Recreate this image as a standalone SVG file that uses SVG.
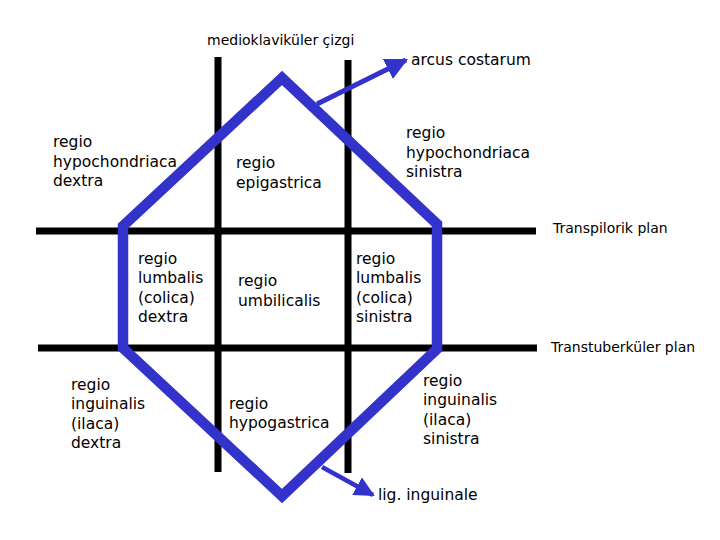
<svg xmlns="http://www.w3.org/2000/svg" width="720" height="540" viewBox="0 0 720 540">
<defs>
<style>
.t{font-family:"DejaVu Sans","Liberation Sans",sans-serif;font-size:15.5px;fill:#000}
.s{font-family:"DejaVu Sans","Liberation Sans",sans-serif;font-size:14px;fill:#000}
.grid{stroke:#000;stroke-width:7;fill:none}
.blue{stroke:#3333CC;stroke-width:10.5;fill:none;stroke-linejoin:miter}
.arr{stroke:#3333CC;fill:none}
</style>
<marker id="ah" viewBox="0 0 10 10" refX="9" refY="5" markerWidth="4.5" markerHeight="4.5" orient="auto" markerUnits="strokeWidth">
<path d="M0,0 L10,5 L0,10 z" fill="#3333CC"/>
</marker>
</defs>
<rect width="720" height="540" fill="#fff"/>
<g id="grid">
<line class="grid" x1="218" y1="57" x2="218" y2="472"/>
<line class="grid" x1="348" y1="60" x2="348" y2="473"/>
<line class="grid" x1="36" y1="231" x2="536" y2="231"/>
<line class="grid" x1="38" y1="348" x2="537" y2="348"/>
</g>
<g id="arcus">
<polygon class="blue" points="282,78 123,226 123,348 282,496 437,349 437,224"/>
</g>
<g id="connectors">
<line class="arr" stroke-width="5" x1="317" y1="104" x2="406" y2="60" marker-end="url(#ah)"/>
<line class="arr" stroke-width="4.5" x1="322" y1="467" x2="373" y2="495" marker-end="url(#ah)"/>
</g>
<g id="label-medioklavikuler"><text class="s" x="207" y="45">medioklaviküler çizgi</text></g>
<g id="label-arcus"><text class="t" x="411" y="65">arcus costarum</text></g>
<g id="regio-hypochondriaca-dextra"><text class="t" x="53" y="147"><tspan x="53">regio</tspan><tspan x="53" dy="19.5">hypochondriaca</tspan><tspan x="53" dy="19.5">dextra</tspan></text></g>
<g id="regio-epigastrica"><text class="t" x="236" y="168"><tspan x="236">regio</tspan><tspan x="236" dy="19.5">epigastrica</tspan></text></g>
<g id="regio-hypochondriaca-sinistra"><text class="t" x="406" y="138"><tspan x="406">regio</tspan><tspan x="406" dy="19.5">hypochondriaca</tspan><tspan x="406" dy="19.5">sinistra</tspan></text></g>
<g id="label-transpilorik"><text class="s" x="553" y="233">Transpilorik plan</text></g>
<g id="regio-lumbalis-dextra"><text class="t" x="138" y="264"><tspan x="138">regio</tspan><tspan x="138" dy="19.3">lumbalis</tspan><tspan x="138" dy="19.3">(colica)</tspan><tspan x="138" dy="19.3">dextra</tspan></text></g>
<g id="regio-umbilicalis"><text class="t" x="238" y="286"><tspan x="238">regio</tspan><tspan x="238" dy="19.5">umbilicalis</tspan></text></g>
<g id="regio-lumbalis-sinistra"><text class="t" x="356" y="264"><tspan x="356">regio</tspan><tspan x="356" dy="19.3">lumbalis</tspan><tspan x="356" dy="19.3">(colica)</tspan><tspan x="356" dy="19.3">sinistra</tspan></text></g>
<g id="label-transtuberkuler"><text class="s" x="551" y="352">Transtuberküler plan</text></g>
<g id="regio-inguinalis-dextra"><text class="t" x="71" y="390"><tspan x="71">regio</tspan><tspan x="71" dy="19.3">inguinalis</tspan><tspan x="71" dy="19.3">(ilaca)</tspan><tspan x="71" dy="19.3">dextra</tspan></text></g>
<g id="regio-hypogastrica"><text class="t" x="229" y="409"><tspan x="229">regio</tspan><tspan x="229" dy="19">hypogastrica</tspan></text></g>
<g id="regio-inguinalis-sinistra"><text class="t" x="423" y="386"><tspan x="423">regio</tspan><tspan x="423" dy="19.3">inguinalis</tspan><tspan x="423" dy="19.3">(ilaca)</tspan><tspan x="423" dy="19.3">sinistra</tspan></text></g>
<g id="label-lig-inguinale"><text class="t" x="378" y="500">lig. inguinale</text></g>
</svg>
